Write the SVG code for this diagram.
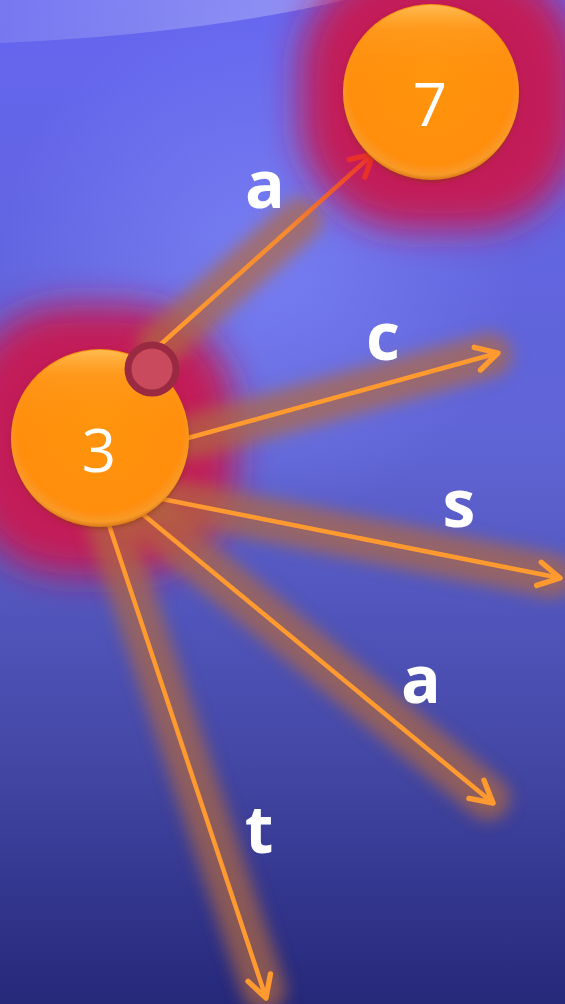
<svg xmlns="http://www.w3.org/2000/svg" width="565" height="1004" viewBox="0 0 565 1004">
<defs>
<linearGradient id="bg" x1="0" y1="0" x2="0" y2="1">
<stop offset="0" stop-color="#6566f0"/>
<stop offset="0.45" stop-color="#5f64d4"/>
<stop offset="0.75" stop-color="#4548a6"/>
<stop offset="1" stop-color="#26287a"/>
</linearGradient>
<radialGradient id="bgl" cx="260" cy="260" r="260" gradientUnits="userSpaceOnUse">
<stop offset="0" stop-color="#8088fa" stop-opacity="0.7"/>
<stop offset="1" stop-color="#8088fa" stop-opacity="0"/>
</radialGradient>
<linearGradient id="arc" x1="0" y1="0" x2="1" y2="0">
<stop offset="0" stop-color="#ffffff" stop-opacity="0.12"/>
<stop offset="1" stop-color="#ffffff" stop-opacity="0.3"/>
</linearGradient>
<radialGradient id="orb" cx="0.5" cy="0.45" r="0.55">
<stop offset="0" stop-color="#ff9410"/>
<stop offset="0.85" stop-color="#ff8e10"/>
<stop offset="0.95" stop-color="#f89a28"/>
<stop offset="1" stop-color="#d87818"/>
</radialGradient>
<linearGradient id="orbTop" x1="0" y1="0" x2="0" y2="1">
<stop offset="0" stop-color="#ffd070" stop-opacity="0.7"/>
<stop offset="0.15" stop-color="#ffb040" stop-opacity="0.25"/>
<stop offset="0.5" stop-color="#ff9000" stop-opacity="0"/>
</linearGradient>
<linearGradient id="edgeA" x1="160" y1="345" x2="372" y2="155" gradientUnits="userSpaceOnUse">
<stop offset="0" stop-color="#ff9a30"/>
<stop offset="0.6" stop-color="#f58a30"/>
<stop offset="1" stop-color="#e8302a"/>
</linearGradient>
<filter id="blurBig" x="-60%" y="-60%" width="220%" height="220%">
<feGaussianBlur stdDeviation="18"/>
</filter>
<filter id="blurGlow" x="-20%" y="-20%" width="140%" height="140%">
<feGaussianBlur stdDeviation="8"/>
</filter>
<filter id="shadow" x="-10%" y="-10%" width="120%" height="120%">
<feDropShadow dx="0" dy="2" stdDeviation="2" flood-color="#803000" flood-opacity="0.5"/>
</filter>
<marker id="arr" markerUnits="userSpaceOnUse" markerWidth="30" markerHeight="30" viewBox="-24 -14 28 28" refX="0" refY="0" orient="auto">
<path d="M-20,-11 L0,0 L-20,11" fill="none" stroke="#ff9a30" stroke-width="5" stroke-linecap="round" stroke-linejoin="round"/>
</marker>
<marker id="arrR" markerUnits="userSpaceOnUse" markerWidth="30" markerHeight="30" viewBox="-24 -14 28 28" refX="0" refY="0" orient="auto">
<path d="M-20,-11 L0,0 L-20,11" fill="none" stroke="#e8302a" stroke-width="5" stroke-linecap="round" stroke-linejoin="round"/>
</marker>
</defs>
<style>
.glowline{stroke:#b06a40;stroke-width:44;stroke-linecap:round;opacity:0.7;fill:none}
.edge{stroke:#ff9a30;stroke-width:4.5;fill:none;stroke-linecap:round}
.lbl{font-family:"Open Sans","Liberation Sans",sans-serif;font-weight:700;font-size:66px;fill:#ffffff;text-anchor:middle}
.num{font-family:"Open Sans","Liberation Sans",sans-serif;font-weight:400;font-size:60px;fill:#ffffff;text-anchor:middle}
.halo{fill:#c21f58}
</style>
<rect width="565" height="1004" fill="url(#bg)"/>
<rect width="565" height="1004" fill="url(#bgl)"/>
<path d="M0,0 L345,0 Q200,34 0,43 Z" fill="url(#arc)"/>

<g id="halos" filter="url(#blurBig)">
<rect class="halo" x="300" y="-40" width="280" height="270" rx="110"/>
<rect class="halo" x="-40" y="305" width="275" height="270" rx="110"/>
</g>

<g id="connectors">
<g filter="url(#blurGlow)">
<line class="glowline" x1="188" y1="438" x2="490" y2="355"/>
<line class="glowline" x1="157" y1="498" x2="552" y2="576"/>
<line class="glowline" x1="140" y1="512" x2="488" y2="798"/>
<line class="glowline" x1="108" y1="522" x2="264" y2="990"/>
<line class="glowline" x1="160" y1="345" x2="300" y2="220" opacity="0.5"/>
</g>
<line x1="160" y1="345" x2="373" y2="154" stroke="url(#edgeA)" stroke-width="4.5" fill="none" marker-end="url(#arrR)"/>
<line class="edge" x1="188" y1="438" x2="498" y2="353" marker-end="url(#arr)"/>
<line class="edge" x1="157" y1="498" x2="560" y2="578" marker-end="url(#arr)"/>
<line class="edge" x1="140" y1="512" x2="493" y2="803" marker-end="url(#arr)"/>
<line class="edge" x1="108" y1="522" x2="266" y2="998" marker-end="url(#arr)"/>
</g>

<g id="node7">
<circle cx="431" cy="92" r="88" fill="url(#orb)" filter="url(#shadow)"/>
<circle cx="431" cy="92" r="87" fill="url(#orbTop)"/>
<text class="num" x="430" y="126">7</text>
</g>

<g id="node3">
<circle cx="100" cy="438" r="89" fill="url(#orb)" filter="url(#shadow)"/>
<circle cx="100" cy="438" r="88" fill="url(#orbTop)"/>
<text class="num" x="99" y="472">3</text>
</g>

<g id="start">
<circle cx="152" cy="369" r="24" fill="#c94a5c" stroke="#9a2a42" stroke-width="7"/>
</g>

<g id="labels">
<text class="lbl" x="265" y="208">a</text>
<text class="lbl" x="383" y="360">c</text>
<text class="lbl" x="459" y="527">s</text>
<text class="lbl" x="421" y="703">a</text>
<text class="lbl" x="259" y="853">t</text>
</g>
</svg>
